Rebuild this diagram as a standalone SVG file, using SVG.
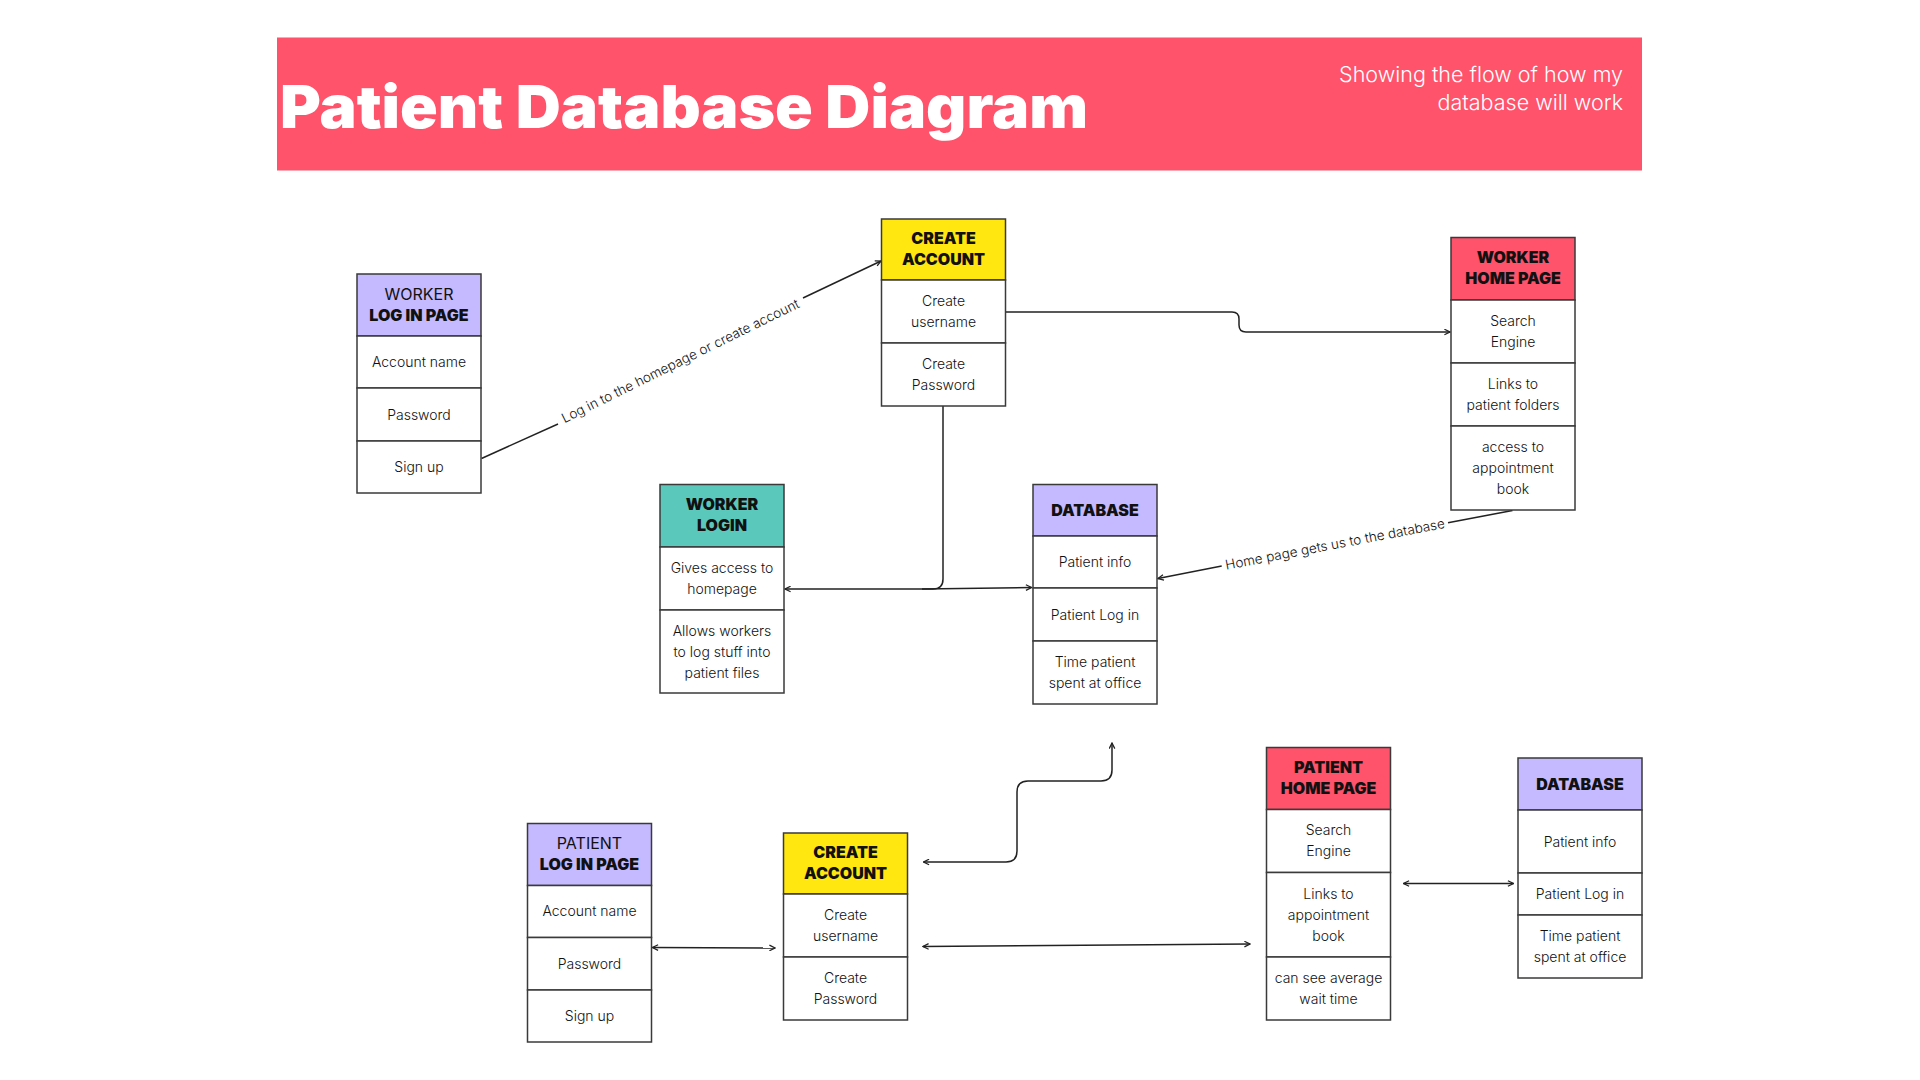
<svg xmlns="http://www.w3.org/2000/svg" width="1920" height="1080" viewBox="0 0 1920 1080">
<defs>
<style>
.box{fill:#fff;stroke:#3a3a3a;stroke-width:1.5}
.hp{fill:#C5B9FF;stroke:#3a3a3a;stroke-width:1.5}
.hy{fill:#FFE70F;stroke:#3a3a3a;stroke-width:1.5}
.hr{fill:#FF526B;stroke:#3a3a3a;stroke-width:1.5}
.ht{fill:#5BC8BC;stroke:#3a3a3a;stroke-width:1.5}
.h{font-family:Inter,"Liberation Sans",sans-serif;font-weight:900;font-size:16px;fill:#111;text-anchor:middle}
.hn{font-weight:400}
.r{font-family:Inter,"Liberation Sans",sans-serif;font-weight:300;font-size:14px;fill:#111;text-anchor:middle}
.conn{fill:none;stroke:#222;stroke-width:1.5}
.lbl{font-family:Inter,"Liberation Sans",sans-serif;font-weight:300;font-size:13.5px;fill:#111;text-anchor:middle}
</style>
<marker id="arr" viewBox="0 0 10 10" refX="9" refY="5" markerWidth="7" markerHeight="7" markerUnits="userSpaceOnUse" orient="auto-start-reverse">
<path d="M1,1 L9,5 L1,9" fill="none" stroke="#222" stroke-width="1.8"/>
</marker>
</defs>
<rect width="1920" height="1080" fill="#fff"/>

<g id="banner">
<rect x="277" y="37.5" width="1365" height="133" fill="#FF526B"/>
<text x="280" y="128" font-family="Inter,'Liberation Sans',sans-serif" font-weight="900" font-size="59" fill="#fff" textLength="808" lengthAdjust="spacingAndGlyphs">Patient Database Diagram</text>
<text font-family="Inter,'Liberation Sans',sans-serif" font-weight="300" font-size="21.5" fill="#fff" text-anchor="end"><tspan x="1623" y="81.5">Showing the flow of how my</tspan><tspan x="1623" y="110">database will work</tspan></text>
</g>

<g id="connectors">
<path class="conn" d="M481.5,458.5 L558,424"/>
<path class="conn" d="M803,298 L881,261" marker-end="url(#arr)"/>
<text class="lbl" transform="translate(680.5,361) rotate(-26.26)" y="4.5">Log in to the homepage or create account</text>
<path class="conn" d="M1005.5,312 H1232 Q1239,312 1239,319 V325 Q1239,332 1246,332 H1450" marker-end="url(#arr)"/>
<path class="conn" d="M943,406 V579 Q943,589 933,589 H785" marker-end="url(#arr)"/>
<path class="conn" d="M922,589 L1031.5,587.5" marker-end="url(#arr)"/>
<path class="conn" d="M1512.5,510.5 L1448,522.7"/>
<path class="conn" d="M1221.7,566 L1158,578.5" marker-end="url(#arr)"/>
<text class="lbl" transform="translate(1335,544.4) rotate(-10.84)" y="4.5">Home page gets us to the database</text>
<path class="conn" d="M1112,743 V770 Q1112,781 1101,781 H1028 Q1017,781 1017,792 V851 Q1017,862 1006,862 H923.5" marker-start="url(#arr)" marker-end="url(#arr)"/>
<path class="conn" d="M923,946.5 L1250,944" marker-start="url(#arr)" marker-end="url(#arr)"/>
<path class="conn" d="M652.5,947.5 L775,948" marker-start="url(#arr)" marker-end="url(#arr)"/>
<path class="conn" d="M1403.5,883.5 L1513.5,883.5" marker-start="url(#arr)" marker-end="url(#arr)"/>
</g>

<g id="worker-log-in-page">
<rect class="hp" x="357" y="274" width="124" height="62"/>
<rect class="box" x="357" y="336" width="124" height="52"/>
<rect class="box" x="357" y="388" width="124" height="53"/>
<rect class="box" x="357" y="441" width="124" height="52"/>
<text class="h"><tspan class="hn" x="419" y="300">WORKER</tspan><tspan x="419" y="321">LOG IN PAGE</tspan></text>
<text class="r" x="419" y="367">Account name</text>
<text class="r" x="419" y="419.5">Password</text>
<text class="r" x="419" y="472">Sign up</text>
</g>

<g id="create-account-top">
<rect class="hy" x="881.5" y="219" width="124" height="61"/>
<rect class="box" x="881.5" y="280" width="124" height="63"/>
<rect class="box" x="881.5" y="343" width="124" height="63"/>
<text class="h"><tspan x="943.5" y="244">CREATE</tspan><tspan x="943.5" y="265">ACCOUNT</tspan></text>
<text class="r"><tspan x="943.5" y="306">Create</tspan><tspan x="943.5" y="327">username</tspan></text>
<text class="r"><tspan x="943.5" y="369">Create</tspan><tspan x="943.5" y="390">Password</tspan></text>
</g>

<g id="worker-home-page">
<rect class="hr" x="1451" y="237.5" width="124" height="62.5"/>
<rect class="box" x="1451" y="300" width="124" height="63"/>
<rect class="box" x="1451" y="363" width="124" height="63"/>
<rect class="box" x="1451" y="426" width="124" height="84"/>
<text class="h"><tspan x="1513" y="263">WORKER</tspan><tspan x="1513" y="284">HOME PAGE</tspan></text>
<text class="r"><tspan x="1513" y="326">Search</tspan><tspan x="1513" y="347">Engine</tspan></text>
<text class="r"><tspan x="1513" y="389">Links to</tspan><tspan x="1513" y="410">patient folders</tspan></text>
<text class="r"><tspan x="1513" y="452">access to</tspan><tspan x="1513" y="473">appointment</tspan><tspan x="1513" y="494">book</tspan></text>
</g>

<g id="worker-login">
<rect class="ht" x="660" y="484.5" width="124" height="62.5"/>
<rect class="box" x="660" y="547" width="124" height="63"/>
<rect class="box" x="660" y="610" width="124" height="83"/>
<text class="h"><tspan x="722" y="510">WORKER</tspan><tspan x="722" y="531">LOGIN</tspan></text>
<text class="r"><tspan x="722" y="573">Gives access to</tspan><tspan x="722" y="594">homepage</tspan></text>
<text class="r"><tspan x="722" y="635.5">Allows workers</tspan><tspan x="722" y="656.5">to log stuff into</tspan><tspan x="722" y="677.5">patient files</tspan></text>
</g>

<g id="database-top">
<rect class="hp" x="1033" y="484.5" width="124" height="51.5"/>
<rect class="box" x="1033" y="536" width="124" height="52"/>
<rect class="box" x="1033" y="588" width="124" height="53"/>
<rect class="box" x="1033" y="641" width="124" height="63"/>
<text class="h" x="1095" y="515.5">DATABASE</text>
<text class="r" x="1095" y="567">Patient info</text>
<text class="r" x="1095" y="619.5">Patient Log in</text>
<text class="r"><tspan x="1095" y="667">Time patient</tspan><tspan x="1095" y="688">spent at office</tspan></text>
</g>

<g id="patient-log-in-page">
<rect class="hp" x="527.5" y="823.5" width="124" height="62"/>
<rect class="box" x="527.5" y="885.5" width="124" height="52"/>
<rect class="box" x="527.5" y="937.5" width="124" height="52.5"/>
<rect class="box" x="527.5" y="990" width="124" height="52"/>
<text class="h"><tspan class="hn" x="589.5" y="849">PATIENT</tspan><tspan x="589.5" y="870">LOG IN PAGE</tspan></text>
<text class="r" x="589.5" y="916">Account name</text>
<text class="r" x="589.5" y="968.5">Password</text>
<text class="r" x="589.5" y="1021">Sign up</text>
</g>

<g id="create-account-bottom">
<rect class="hy" x="783.5" y="833" width="124" height="61"/>
<rect class="box" x="783.5" y="894" width="124" height="63"/>
<rect class="box" x="783.5" y="957" width="124" height="63"/>
<text class="h"><tspan x="845.5" y="858">CREATE</tspan><tspan x="845.5" y="879">ACCOUNT</tspan></text>
<text class="r"><tspan x="845.5" y="920">Create</tspan><tspan x="845.5" y="941">username</tspan></text>
<text class="r"><tspan x="845.5" y="983">Create</tspan><tspan x="845.5" y="1004">Password</tspan></text>
</g>

<g id="patient-home-page">
<rect class="hr" x="1266.5" y="747.5" width="124" height="62"/>
<rect class="box" x="1266.5" y="809.5" width="124" height="63"/>
<rect class="box" x="1266.5" y="872.5" width="124" height="84.5"/>
<rect class="box" x="1266.5" y="957" width="124" height="63"/>
<text class="h"><tspan x="1328.5" y="772.5">PATIENT</tspan><tspan x="1328.5" y="793.5">HOME PAGE</tspan></text>
<text class="r"><tspan x="1328.5" y="835">Search</tspan><tspan x="1328.5" y="856">Engine</tspan></text>
<text class="r"><tspan x="1328.5" y="898.5">Links to</tspan><tspan x="1328.5" y="919.5">appointment</tspan><tspan x="1328.5" y="940.5">book</tspan></text>
<text class="r"><tspan x="1328.5" y="983">can see average</tspan><tspan x="1328.5" y="1004">wait time</tspan></text>
</g>

<g id="database-bottom">
<rect class="hp" x="1518" y="758" width="124" height="52"/>
<rect class="box" x="1518" y="810" width="124" height="63"/>
<rect class="box" x="1518" y="873" width="124" height="42"/>
<rect class="box" x="1518" y="915" width="124" height="63"/>
<text class="h" x="1580" y="789.5">DATABASE</text>
<text class="r" x="1580" y="846.5">Patient info</text>
<text class="r" x="1580" y="899">Patient Log in</text>
<text class="r"><tspan x="1580" y="941">Time patient</tspan><tspan x="1580" y="962">spent at office</tspan></text>
</g>
</svg>
